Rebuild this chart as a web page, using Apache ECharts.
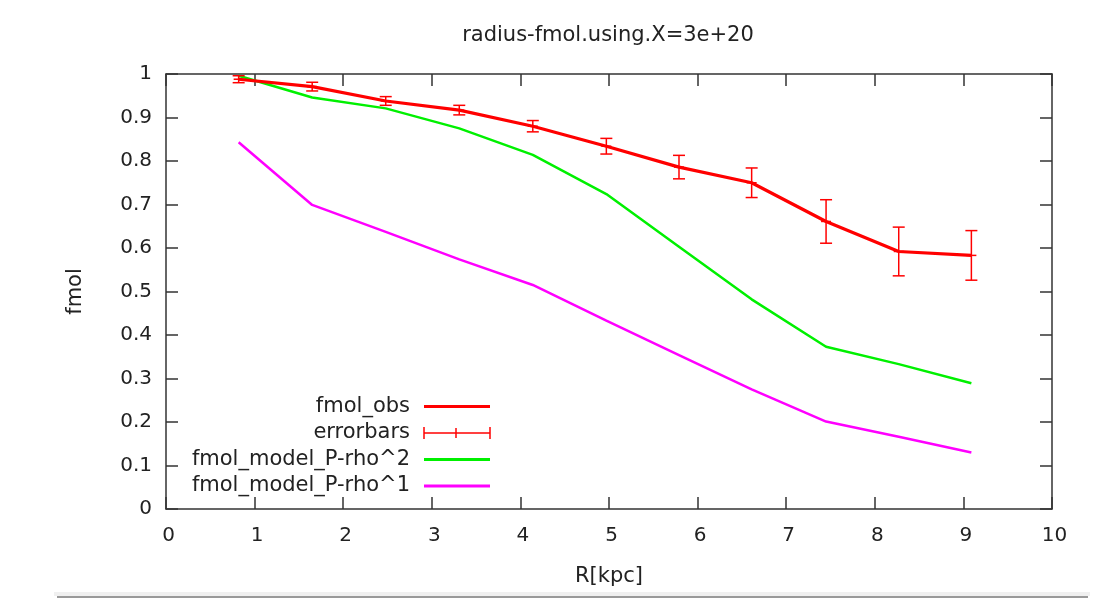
<!DOCTYPE html>
<html>
<head>
<meta charset="utf-8">
<title>radius-fmol</title>
<script src="https://cdn.jsdelivr.net/npm/echarts@6/dist/echarts.min.js"></script>
<style>
  html, body { margin: 0; padding: 0; background: #fff; }
  #chart { width: 1106px; height: 604px; }
</style>
</head>
<body>
<div id="chart"></div>
<script>
// Radius in kpc
const radius = [0.82, 1.65, 2.48, 3.31, 4.14, 4.97, 5.79, 6.61, 7.45, 8.27, 9.09];
// Observed molecular fraction and its error half-widths
const fmolObs = [0.988, 0.971, 0.938, 0.917, 0.880, 0.834, 0.786, 0.750, 0.661, 0.592, 0.583];
const fmolErr = [0.008, 0.010, 0.010, 0.011, 0.013, 0.018, 0.027, 0.034, 0.050, 0.056, 0.057];
// Model predictions
const fmolModelRho2 = [0.996, 0.946, 0.921, 0.875, 0.814, 0.724, 0.603, 0.482, 0.373, 0.333, 0.289];
const fmolModelRho1 = [0.843, 0.699, 0.637, 0.574, 0.515, 0.433, 0.354, 0.275, 0.201, 0.166, 0.130];

const seriesNames = ['fmol_obs', 'errorbars', 'fmol_model_P-rho^2', 'fmol_model_P-rho^1'];
const RED = '#ff0000', GREEN = '#00f000', MAGENTA = '#ff00ff';
const FONT = 'DejaVu Sans';
const AXIS_COLOR = '#333';
const TEXT_COLOR = '#222';

const pairs = (xs, ys) => xs.map((x, i) => [x, ys[i]]);
const errData = radius.map((x, i) => [x, fmolObs[i] - fmolErr[i], fmolObs[i] + fmolErr[i], fmolObs[i]]);

const chart = echarts.init(document.getElementById('chart'), null, { renderer: 'canvas' });

const tickStyle = { show: true, inside: true, length: 12, lineStyle: { color: AXIS_COLOR, width: 1.5 } };
const axisLineStyle = { show: true, onZero: false, lineStyle: { color: AXIS_COLOR, width: 1.5 } };

// Legend rows drawn as graphic elements: label right-aligned, sample on the right
const legendX = 410, legendLine0 = 424, legendLine1 = 490;
const legendRows = [406.5, 433, 459.5, 486];
const legendColors = [RED, RED, GREEN, MAGENTA];
const legendGraphics = [];
seriesNames.forEach((name, i) => {
  const y = legendRows[i];
  legendGraphics.push({
    type: 'text', x: legendX, y: y,
    style: { text: name, font: '21px "' + FONT + '"', fill: TEXT_COLOR, align: 'right', verticalAlign: 'middle' }
  });
  if (i === 1) {
    const mid = 456;
    legendGraphics.push({ type: 'line', shape: { x1: legendLine0, y1: y, x2: legendLine1, y2: y }, style: { stroke: RED, lineWidth: 1.5 } });
    legendGraphics.push({ type: 'line', shape: { x1: legendLine0, y1: y - 6, x2: legendLine0, y2: y + 6 }, style: { stroke: RED, lineWidth: 1.5 } });
    legendGraphics.push({ type: 'line', shape: { x1: legendLine1, y1: y - 6, x2: legendLine1, y2: y + 6 }, style: { stroke: RED, lineWidth: 1.5 } });
    legendGraphics.push({ type: 'line', shape: { x1: mid, y1: y - 5, x2: mid, y2: y + 5 }, style: { stroke: RED, lineWidth: 1.5 } });
  } else {
    legendGraphics.push({ type: 'line', shape: { x1: legendLine0, y1: y, x2: legendLine1, y2: y }, style: { stroke: legendColors[i], lineWidth: 3 } });
  }
});

const option = {
  backgroundColor: '#ffffff',
  animation: false,
  title: {
    text: 'radius-fmol.using.X=3e+20',
    left: 603, top: 20, textAlign: 'center',
    textStyle: { fontFamily: FONT, fontSize: 21, fontWeight: 'normal', color: TEXT_COLOR }
  },
  grid: { left: 166, right: 54, top: 74, bottom: 95, containLabel: false },
  xAxis: [
    {
      type: 'value', position: 'bottom', min: 0, max: 10, interval: 1,
      name: 'R[kpc]', nameLocation: 'middle', nameGap: 57,
      nameTextStyle: { fontFamily: FONT, fontSize: 21, color: TEXT_COLOR },
      axisLine: axisLineStyle, axisTick: tickStyle,
      axisLabel: { fontFamily: FONT, fontSize: 20, color: TEXT_COLOR, margin: 17, padding: [0, 0, 0, 5] },
      splitLine: { show: false }
    },
    {
      type: 'value', position: 'top', min: 0, max: 10, interval: 1,
      axisLine: axisLineStyle, axisTick: tickStyle,
      axisLabel: { show: false }, splitLine: { show: false }
    }
  ],
  yAxis: [
    {
      type: 'value', position: 'left', min: 0, max: 1, interval: 0.1,
      name: 'fmol', nameLocation: 'middle', nameGap: 80, nameRotate: 90,
      nameTextStyle: { fontFamily: FONT, fontSize: 21, color: TEXT_COLOR },
      axisLine: axisLineStyle, axisTick: tickStyle,
      axisLabel: { fontFamily: FONT, fontSize: 20, color: TEXT_COLOR, margin: 14 },
      splitLine: { show: false }
    },
    {
      type: 'value', position: 'right', min: 0, max: 1, interval: 0.1,
      axisLine: axisLineStyle, axisTick: tickStyle,
      axisLabel: { show: false }, splitLine: { show: false }
    }
  ],
  series: [
    {
      name: seriesNames[3], type: 'line', data: pairs(radius, fmolModelRho1),
      showSymbol: false, lineStyle: { color: MAGENTA, width: 2.5 }, z: 2
    },
    {
      name: seriesNames[2], type: 'line', data: pairs(radius, fmolModelRho2),
      showSymbol: false, lineStyle: { color: GREEN, width: 2.5 }, z: 3
    },
    {
      name: seriesNames[0], type: 'line', data: pairs(radius, fmolObs),
      showSymbol: false, lineStyle: { color: RED, width: 3.2 }, z: 4
    },
    {
      name: seriesNames[1], type: 'custom', data: errData, z: 5,
      renderItem: function (params, api) {
        const x = api.value(0);
        const lo = api.coord([x, api.value(1)]);
        const hi = api.coord([x, api.value(2)]);
        const mid = api.coord([x, api.value(3)]);
        const cap = 6;
        const st = { stroke: RED, lineWidth: 1.5 };
        return {
          type: 'group',
          children: [
            { type: 'line', shape: { x1: lo[0], y1: lo[1], x2: hi[0], y2: hi[1] }, style: st },
            { type: 'line', shape: { x1: lo[0] - cap, y1: lo[1], x2: lo[0] + cap, y2: lo[1] }, style: st },
            { type: 'line', shape: { x1: hi[0] - cap, y1: hi[1], x2: hi[0] + cap, y2: hi[1] }, style: st },
            { type: 'line', shape: { x1: mid[0] - 5, y1: mid[1], x2: mid[0] + 5, y2: mid[1] }, style: st }
          ]
        };
      }
    }
  ],
  graphic: legendGraphics.concat([
    { type: 'rect', shape: { x: 54, y: 592, width: 1036, height: 4 }, style: { fill: '#f0f0f0' } },
    { type: 'rect', shape: { x: 57, y: 596, width: 1031, height: 2 }, style: { fill: '#9a9a9a' } }
  ])
};

chart.setOption(option);
</script>
</body>
</html>
